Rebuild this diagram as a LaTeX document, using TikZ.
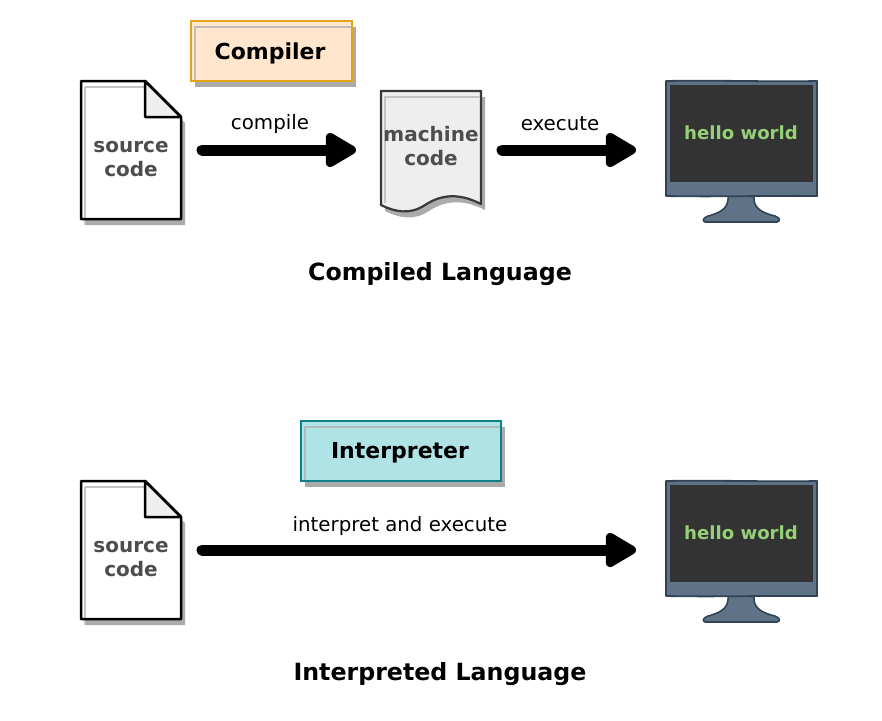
\documentclass[tikz,border=0pt]{standalone}
\usepackage{fontspec}
\setmainfont{DejaVu Sans}
\usetikzlibrary{arrows.meta}
\definecolor{shadowgray}{HTML}{ABABAB}
\definecolor{shadowline}{HTML}{C4C4C4}
\definecolor{txtgray}{HTML}{4D4D4D}
\definecolor{foldgray}{HTML}{EEEEEE}
\definecolor{machstroke}{HTML}{36393D}
\definecolor{compfill}{HTML}{FFE6CC}
\definecolor{compstroke}{HTML}{E0A31A}
\definecolor{intfill}{HTML}{B0E3E6}
\definecolor{intstroke}{HTML}{0E8088}
\definecolor{monfill}{HTML}{5F7388}
\definecolor{monstroke}{HTML}{314354}
\definecolor{screenfill}{HTML}{333333}
\definecolor{hellogreen}{HTML}{97D077}
\tikzset{
  x=1pt,y=-1pt,
  anchorbox/.style={inner sep=0pt,outer sep=0pt},
  doctext/.style={anchorbox,align=center,text=txtgray,font=\bfseries\fontsize{20}{24}\selectfont},
  toolbox/.style={anchorbox,font=\bfseries\fontsize{22}{26}\selectfont,text=black},
  edgetext/.style={anchorbox,font=\fontsize{19.8}{24}\selectfont,text=black},
  titletext/.style={anchorbox,font=\bfseries\fontsize{23.7}{28}\selectfont,text=black},
  hellotext/.style={anchorbox,font=\bfseries\fontsize{18.1}{22}\selectfont,text=hellogreen},
  bigarrow/.style={line width=11pt,line cap=round,black,yshift=-0.8pt,
    -{Triangle[round,length=35pt,width=38pt]}},
}
\newcommand{\docpath}{(81,81) -- (145,81) -- (181,117) -- (181,219) -- (81,219) -- cycle}
\newcommand{\drawdoc}[2]{%
  \begin{scope}[yshift=-#2pt]
    \fill[shadowgray,shift={(4,6)}] \docpath;
    \fill[white] \docpath;
    \draw[shadowline,line width=2pt,shift={(4,6)}] (81,81) -- (145,81) (81,81) -- (81,219);
    \draw[black,line width=2.5pt,line join=round] \docpath;
    \draw[black,line width=2.5pt,line join=round,fill=foldgray] (145,81) -- (181,117) -- (145,117) -- cycle;
    \node[anchorbox,minimum width=100pt,minimum height=138pt] (#1) at (131,150) {};
    \node[doctext] (#1text) at (131,159) {source\\code};
  \end{scope}}
\newcommand{\monpath}{(666,81) .. controls (715,80) and (770,82) .. (817,81) -- (817,196) .. controls (770,195.5) and (715,197) .. (666,196) -- cycle}
\newcommand{\drawmon}[2]{%
  \begin{scope}[yshift=-#2pt]
    \draw[monstroke,line width=1.6pt,fill=monfill,line join=round]
      (728,195) .. controls (729,206) and (724,212) .. (708,216)
      .. controls (703,218) and (702,221) .. (705,222) -- (777,222)
      .. controls (781,221) and (780,218) .. (775,216)
      .. controls (758,212) and (753,206) .. (754,195) -- cycle;
    \draw[monstroke,line width=1.8pt,fill=monfill,line join=round] \monpath;
    \node[anchorbox,fill=screenfill,minimum width=143pt,minimum height=97pt] (#1) at (741.5,133.5) {};
    \node[hellotext] (#1text) at (741,133) {hello world};
  \end{scope}}
\begin{document}
\begin{tikzpicture}
\useasboundingbox (0,0) rectangle (882,720);
\fill[white] (0,0) rectangle (882,720);

% Compiled row
\fill[shadowgray] (195,27) rectangle (356,87);
\fill[compfill] (191,21) rectangle (352,81);
\draw[shadowgray!70!compfill,line width=1.5pt] (195,81) -- (195,27) -- (352,27);
\node[toolbox,draw=compstroke,line width=2.4pt,minimum width=161pt,minimum height=60pt] (compiler) at (271.5,51) {};
\node[toolbox] (compilertext) at (270,53) {Compiler};

\drawdoc{srcA}{0}

\fill[shadowgray,shift={(4,6)}]
  (381,91) -- (481,91) -- (481,204) .. controls (463,195) and (445,192) .. (425,205) .. controls (410,215) and (395,212) .. (381,205) -- cycle;
\draw[machstroke,line width=2.2pt,fill=foldgray,line join=round]
  (381,91) -- (481,91) -- (481,204) .. controls (463,195) and (445,192) .. (425,205) .. controls (410,215) and (395,212) .. (381,205) -- cycle;
\draw[shadowline,line width=2pt] (385,203) -- (385,97) -- (481,97);
\draw[machstroke,line width=2.2pt] (381,205) -- (381,91) -- (481,91) -- (481,204);
\node[anchorbox,minimum width=100pt,minimum height=122pt] (machine) at (431,150) {};
\node[doctext] (machinetext) at (431,146) {machine\\code};

\drawmon{monA}{0}

\draw[bigarrow,shorten <=21pt,shorten >=25pt] (srcA.east) -- (srcA.east -| machine.west);
\draw[bigarrow,shorten <=21pt,shorten >=34pt] (machine.east) -- (machine.east -| monA.west);

\node[edgetext] (compilelabel) at (270,124) {compile};
\node[edgetext] (executelabel) at (560,124) {execute};
\node[titletext] (compiledtitle) at (440,274) {Compiled Language};

% Interpreted row
\fill[shadowgray] (305,427) rectangle (505,487);
\fill[intfill] (301,421) rectangle (501,481);
\draw[shadowgray!70!intfill,line width=1.5pt] (305,481) -- (305,427) -- (501,427);
\node[toolbox,draw=intstroke,line width=2.4pt,minimum width=200pt,minimum height=60pt] (interp) at (401,451) {};
\node[toolbox] (interptext) at (400,453) {Interpreter};

\drawdoc{srcB}{400}
\drawmon{monB}{400}

\draw[bigarrow,shorten <=21pt,shorten >=34pt] (srcB.east) -- (srcB.east -| monB.west);

\node[edgetext] (interplabel) at (400,526) {interpret and execute};
\node[titletext] (interptitle) at (440,674) {Interpreted Language};
\end{tikzpicture}
\end{document}
